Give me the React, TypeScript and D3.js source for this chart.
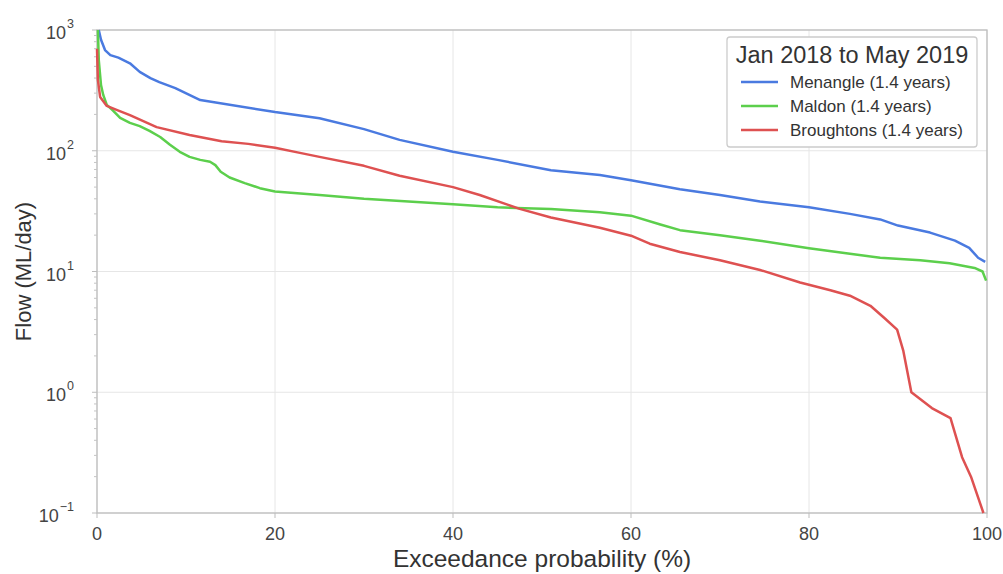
import React from "react";
import * as d3 from "d3";

const menangleX = [0.2, 0.45, 0.9, 1.5, 2.4, 3.7, 4.8, 6.0, 7.0, 8.8, 11.6, 20, 25, 30, 34, 40, 45, 51, 56.5, 60, 65.5, 70, 74.5, 80, 84.6, 88, 90, 93.6, 96.4, 98, 99, 99.8];
const menangleY = [1000, 830, 682, 620, 590, 530, 450, 400, 370, 330, 263, 209, 186, 151, 123, 98, 84, 69, 63, 57, 48, 43, 38, 34, 30, 27, 24, 21, 18, 15.7, 13, 12];

const maldonX = [0.1, 0.2, 0.35, 0.45, 0.7, 1.1, 1.8, 2.6, 3.7, 4.8, 5.9, 7.1, 8.2, 9.3, 10.4, 11.6, 12.7, 13.3, 13.9, 14.9, 16.6, 18.3, 20, 25, 30, 40, 45, 51, 56.5, 60, 63.3, 65.5, 70, 74.5, 80, 84.6, 88, 92.5, 95.8, 98.6, 99.5, 99.9];
const maldonY = [1000, 564, 423, 350, 290, 240, 215, 187, 170, 160, 146, 130, 112, 98, 89, 84, 81, 76, 67, 60, 54, 49, 46, 43, 40, 36, 34, 33, 31, 29, 24.5, 22, 20, 18, 15.6, 14, 13, 12.4, 11.7, 10.7, 10, 8.4];

const broughtonsX = [0, 0.1, 0.35, 1.1, 2.2, 3.7, 6.7, 10.4, 14.0, 17.0, 20, 22.8, 25, 30, 34, 40, 43, 47.5, 51, 56.5, 60, 62.1, 65.5, 70, 74.5, 79, 82.4, 84.6, 86.9, 88.5, 89.9, 90.6, 91.5, 93.8, 95.9, 97.2, 98.2, 99.6];
const broughtonsY = [700, 386, 279, 235, 218, 197, 157, 135, 120, 114, 106, 96, 89, 75, 62, 50, 43, 33, 28, 23, 19.8, 17, 14.5, 12.4, 10.3, 8.1, 7, 6.3, 5.2, 4.1, 3.3, 2.2, 1.0, 0.74, 0.61, 0.29, 0.2, 0.1];

const xTicks = [0, 20, 40, 60, 80, 100];
const yTicks = [0.1, 1, 10, 100, 1000];
const yExponents = ["−1", "0", "1", "2", "3"];

const seriesNames = ["Menangle (1.4 years)", "Maldon (1.4 years)", "Broughtons (1.4 years)"];
const seriesColors = ["#4a7ae0", "#5ccf4c", "#de5151"];
const legendTitle = "Jan 2018 to May 2019";

export default function App() {
  const W = 1003, H = 574;
  const left = 97, right = 987, top = 30, bottom = 513;
  const x = d3.scaleLinear().domain([0, 100]).range([left, right]);
  const y = d3.scaleLog().domain([0.1, 1000]).range([bottom, top]);
  const line = d3.line<[number, number]>().x(d => x(d[0])).y(d => y(d[1]));
  const series = [
    menangleX.map((v, i) => [v, menangleY[i]] as [number, number]),
    maldonX.map((v, i) => [v, maldonY[i]] as [number, number]),
    broughtonsX.map((v, i) => [v, broughtonsY[i]] as [number, number]),
  ];
  const minor: number[] = [];
  for (let e = -1; e < 3; e++) for (let m = 2; m < 10; m++) minor.push(m * Math.pow(10, e));
  const font = "'Liberation Sans', Arial, sans-serif";
  return (
    <svg width={W} height={H} style={{ position: "absolute", left: 0, top: 0, fontFamily: font }}>
      <rect width={W} height={H} fill="#fff" />
      {xTicks.map(t => (
        <line key={"gx" + t} x1={x(t)} x2={x(t)} y1={top} y2={bottom} stroke="#e6e6e6" strokeWidth={1} />
      ))}
      {yTicks.map(t => (
        <line key={"gy" + t} x1={left} x2={right} y1={y(t)} y2={y(t)} stroke="#e6e6e6" strokeWidth={1} />
      ))}
      <rect x={left} y={top} width={right - left} height={bottom - top} fill="none" stroke="#bdbdbd" strokeWidth={1.3} />
      {minor.map(t => (
        <line key={"mt" + t} x1={left - 3} x2={left} y1={y(t)} y2={y(t)} stroke="#c4c4c4" strokeWidth={1} />
      ))}
      {yTicks.map(t => (
        <line key={"yt" + t} x1={left - 5} x2={left} y1={y(t)} y2={y(t)} stroke="#bdbdbd" strokeWidth={1} />
      ))}
      {xTicks.map(t => (
        <line key={"xt" + t} x1={x(t)} x2={x(t)} y1={bottom} y2={bottom + 5} stroke="#bdbdbd" strokeWidth={1} />
      ))}
      {series.map((s, i) => (
        <path key={"s" + i} d={line(s) || ""} fill="none" stroke={seriesColors[i]} strokeWidth={2.5} strokeLinejoin="round" />
      ))}
      {xTicks.map(t => (
        <text key={"xl" + t} x={x(t)} y={bottom + 27} textAnchor="middle" fontSize={18} fill="#444">{t}</text>
      ))}
      {yTicks.map((t, i) => (
        <text key={"yl" + t} x={74} y={y(t) + 9} textAnchor="end" fontSize={18} fill="#444">
          10
          <tspan dx={1} dy={-11} fontSize={12.5}>{yExponents[i]}</tspan>
        </text>
      ))}
      <text x={(left + right) / 2} y={567} textAnchor="middle" fontSize={24.5} fill="#333">Exceedance probability (%)</text>
      <text transform={`translate(31,${(top + bottom) / 2}) rotate(-90)`} textAnchor="middle" fontSize={22} fill="#333">Flow (ML/day)</text>
      <g>
        <rect x={727} y={37} width={250} height={110} rx={3} fill="#fff" stroke="#cccccc" strokeWidth={1.3} />
        <text x={852} y={63} textAnchor="middle" fontSize={23.5} fill="#333">{legendTitle}</text>
        {seriesNames.map((n, i) => (
          <g key={"lg" + i}>
            <line x1={741} x2={778} y1={82 + i * 24} y2={82 + i * 24} stroke={seriesColors[i]} strokeWidth={2.5} />
            <text x={790} y={88 + i * 24} fontSize={17} fill="#333">{n}</text>
          </g>
        ))}
      </g>
    </svg>
  );
}
